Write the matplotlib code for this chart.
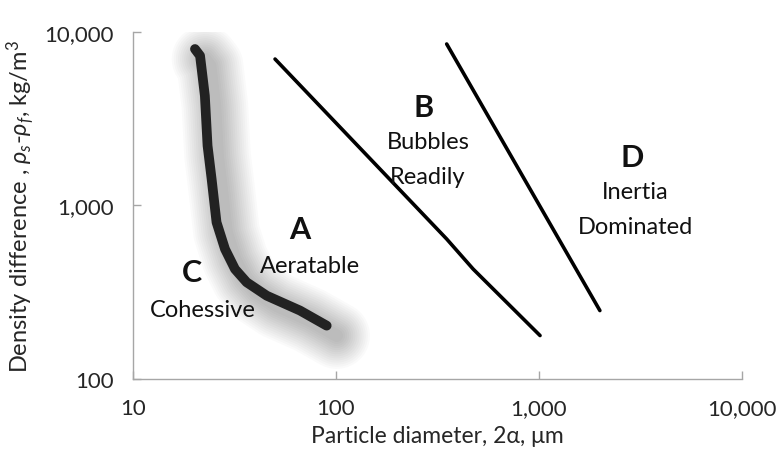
import matplotlib
matplotlib.use("Agg")
import matplotlib.pyplot as plt
import matplotlib.transforms as mtransforms
from matplotlib.ticker import FixedLocator, FuncFormatter, NullLocator

plt.rcParams['font.family'] = ['Lato', 'DejaVu Sans']
plt.rcParams['mathtext.fontset'] = 'custom'
plt.rcParams['mathtext.rm'] = 'Lato'
plt.rcParams['mathtext.it'] = 'Lato:italic'
plt.rcParams['mathtext.bf'] = 'Lato:bold'

# Group C / A boundary (cohesive powders)
ca_d = [20.2, 21.4, 22.6, 23.3, 24.4, 25.8, 28.4, 31.8, 36.3, 45.6, 66.5, 90]
ca_rho = [7980, 7300, 4295, 2213, 1422, 800, 561, 430, 361, 302, 248, 203]

# Group A / B boundary
ab_d = [50.1, 351, 474, 1012]
ab_rho = [6985, 641, 430, 178]

# Group B / D boundary
bd_d = [351, 1995]
bd_rho = [8530, 248]

x_ticks = [10, 100, 1000, 10000]
y_ticks = [100, 1000, 10000]

# Region letters and their descriptions (text, x, y)
letters = [("A", 66.5, 733), ("B", 269, 3680), ("C", 19.5, 412), ("D", 2863, 1905)]
descriptions = [
    ("Aeratable", 74.5, 448),
    ("Bubbles", 284, 2323),
    ("Readily", 284, 1479),
    ("Cohessive", 22.2, 253),
    ("Inertia", 2972, 1197),
    ("Dominated", 2972, 752),
]

fig = plt.figure(figsize=(7.79, 4.56), dpi=100)
ax = fig.add_axes([0.1707, 0.1667, 0.7818, 0.7609])
ax.set_xscale('log')
ax.set_yscale('log')
ax.set_xlim(10, 10000)
ax.set_ylim(100, 10000)

# soft drop shadow under the cohesive boundary
shadow = mtransforms.offset_copy(ax.transData, fig=fig, x=10, y=-10, units='dots')
for w in range(48, 6, -3):
    ax.plot(ca_d, ca_rho, color='black', lw=w, alpha=0.02,
            solid_capstyle='round', solid_joinstyle='round',
            transform=shadow, zorder=1)

ax.plot(ca_d, ca_rho, color='#222222', lw=7, solid_capstyle='round',
        solid_joinstyle='round', zorder=3)
ax.plot(ab_d, ab_rho, color='black', lw=2.6, solid_capstyle='round',
        solid_joinstyle='round', zorder=3)
ax.plot(bd_d, bd_rho, color='black', lw=2.6, solid_capstyle='round', zorder=3)

for txt, x, y in letters:
    ax.text(x, y, txt, fontsize=22, fontweight='bold', ha='center',
            va='center', color='#111111', zorder=4)
for txt, x, y in descriptions:
    ax.text(x, y, txt, fontsize=17, ha='center', va='center',
            color='#111111', zorder=4)

fmt = FuncFormatter(lambda v, p: f"{int(round(v)):,}")
ax.xaxis.set_major_locator(FixedLocator(x_ticks))
ax.yaxis.set_major_locator(FixedLocator(y_ticks))
ax.xaxis.set_major_formatter(fmt)
ax.yaxis.set_major_formatter(fmt)
ax.xaxis.set_minor_locator(NullLocator())
ax.yaxis.set_minor_locator(NullLocator())

for side in ('top', 'right'):
    ax.spines[side].set_visible(False)
for side in ('left', 'bottom'):
    ax.spines[side].set_color('#a6a6a6')
    ax.spines[side].set_linewidth(1.0)

ax.tick_params(axis='both', which='major', direction='in', length=6,
               width=1.0, color='#a6a6a6', labelsize=16,
               labelcolor='#262626')
ax.tick_params(axis='x', pad=14)
ax.tick_params(axis='y', pad=14)

ax.set_xlabel("Particle diameter, 2\u03b1, \u03bcm", fontsize=16.5,
              color='#262626', labelpad=5)
ax.set_ylabel("Density difference , $\\rho_s$-$\\rho_f$, kg/m$^3$",
              fontsize=17, color='#262626', labelpad=6)

fig.savefig("out.png", dpi=100)
